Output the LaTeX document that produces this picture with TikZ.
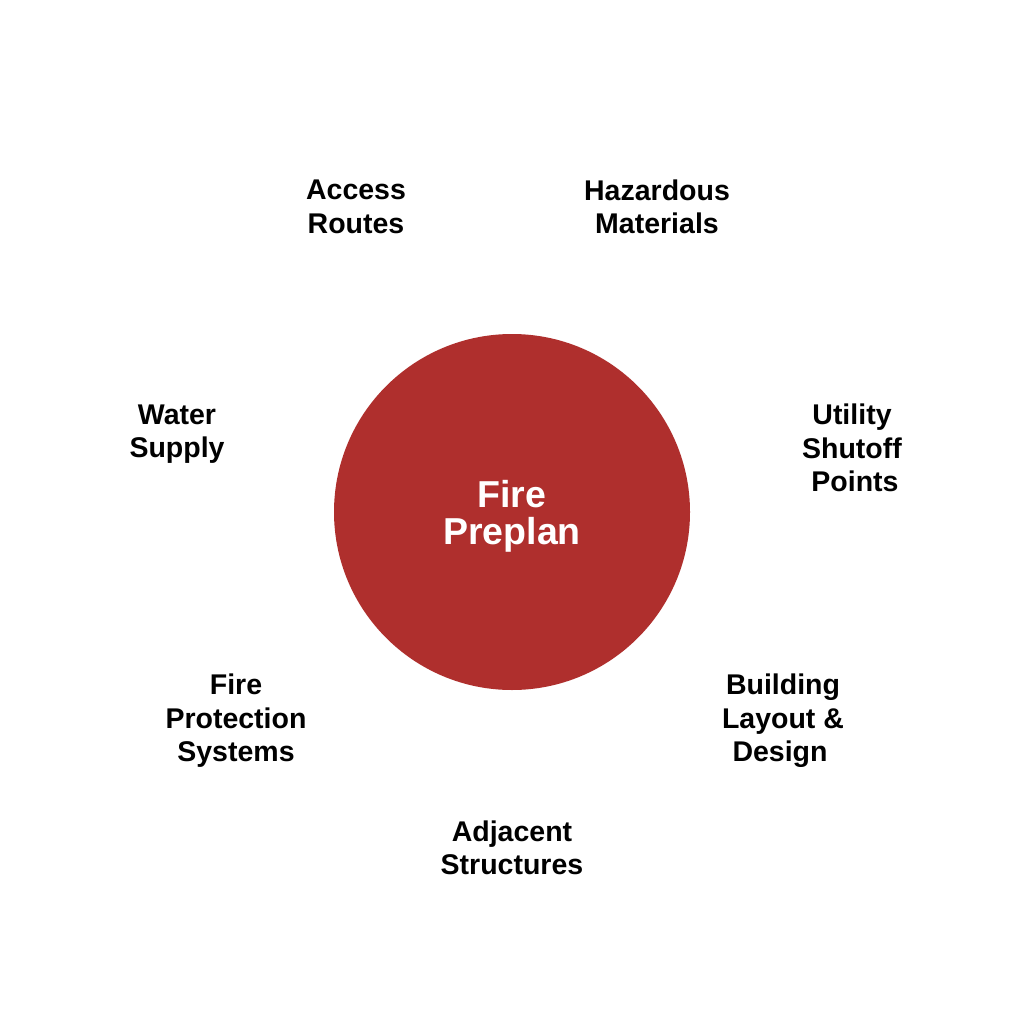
\documentclass[tikz,border=0pt]{standalone}
\usepackage{fontspec}
\setmainfont{Liberation Sans}
\definecolor{firered}{HTML}{AF2F2D}
\tikzset{topic/.style={align=center,font=\bfseries\fontsize{28.5}{33.5}\selectfont,text=black,inner sep=0pt},
  hub/.style={circle,fill=firered,minimum size=356pt,inner sep=0pt},
  hubtext/.style={align=center,inner sep=0pt,text=white,font=\bfseries\fontsize{37.5}{37}\selectfont}}

\begin{document}
\begin{tikzpicture}[x=1pt,y=-1pt]
  \useasboundingbox (0,0) rectangle (1024,1024);
  \node[hub] (preplan) at (512,512) {};
  \node[hubtext] (preplantext) at (512,516) {Fire\\Preplan};
  \node[topic] (access) at (356,207) {Access\\Routes};
  \node[topic] (hazard) at (657,207) {Hazardous\\Materials};
  \node[topic] (utility) at (852,448) {Utility\\Shutoff\\\hspace*{6pt}Points};
  \node[topic] (building) at (783,721) {Building\\Layout \&\\Design\hspace*{6pt}};
  \node[topic] (adjacent) at (512,848) {Adjacent\\Structures};
  \node[topic] (protection) at (236,721) {Fire\\Protection\\Systems};
  \node[topic] (water) at (177,434) {Water\\Supply};

\end{tikzpicture}
\end{document}
